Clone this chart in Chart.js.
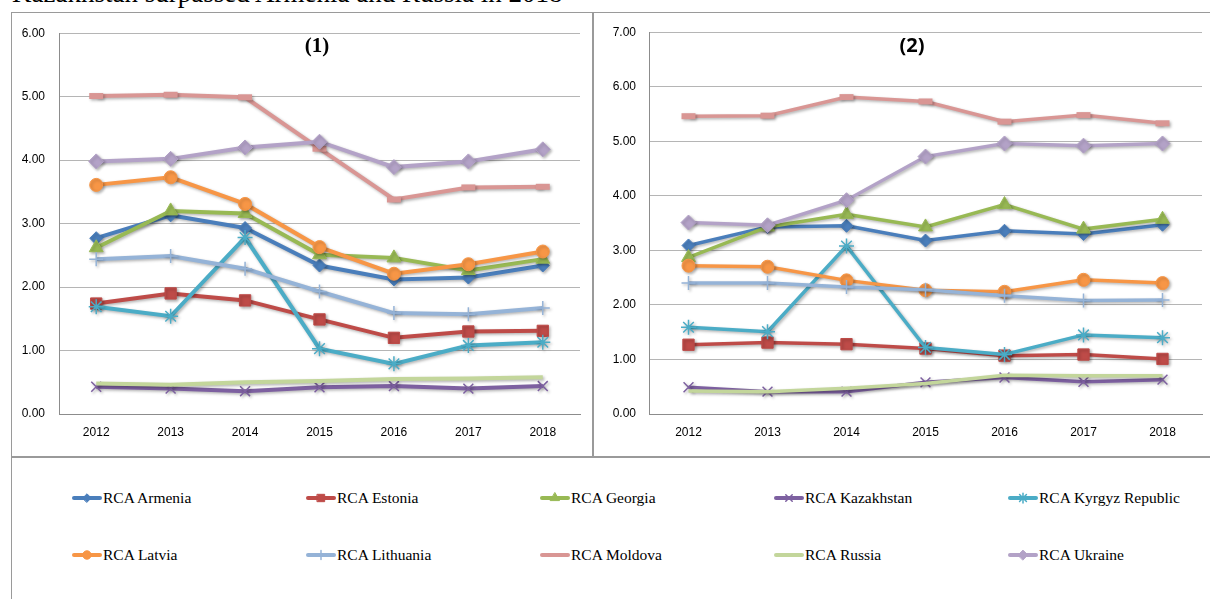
<!DOCTYPE html>
<html>
<head>
<meta charset="utf-8">
<script src="https://cdn.jsdelivr.net/npm/chart.js@4.4.1/dist/chart.umd.min.js"></script>
<style>
  html, body { margin: 0; padding: 0; background: #fff; width: 1210px; height: 599px; overflow: hidden; position: relative; }
  .frame { position: absolute; border: 1.5px solid #9a9a9a; box-sizing: border-box; }
  canvas { position: absolute; }
  .caption { position: absolute; left: 12px; top: -20.5px; font: 27px/27px "Liberation Serif", "Times New Roman", serif; color: #000; white-space: nowrap; }
  .ptitle { position: absolute; transform: translate(-50%, -50%); color: #000; white-space: nowrap; }
  .legend-item { position: absolute; height: 20px; display: flex; align-items: center; transform: translateY(-50%);
                 font: 15.5px "Liberation Serif", "Times New Roman", serif; color: #000; white-space: nowrap; }
  .legend-item canvas { position: static; margin-right: 1px; }
</style>
</head>
<body>
<div class="caption">Kazakhstan surpassed Armenia and Russia in 2018</div>

<div class="frame" style="left:11px; top:12px; width:583px; height:446px;"></div>
<div class="frame" style="left:592px; top:12px; width:640px; height:446px;"></div>
<div class="frame" style="left:11px; top:456px; width:1221px; height:160px;"></div>

<canvas id="c1" width="582" height="445" style="left:11px; top:12px;"></canvas>
<canvas id="c2" width="622" height="445" style="left:593px; top:12px;"></canvas>

<div class="ptitle" style="left:317px; top:45px; font: bold 21px 'Liberation Serif', serif;">(1)</div>
<div class="ptitle" style="left:912px; top:44px; font: bold 20px 'Open Sans', 'Liberation Sans', sans-serif;">(2)</div>

<div id="legend"></div>

<script>
// Years on the category axis
const years = ['2012', '2013', '2014', '2015', '2016', '2017', '2018'];

// Series names
const countries = ['Armenia', 'Estonia', 'Georgia', 'Kazakhstan', 'Kyrgyz Republic',
                   'Latvia', 'Lithuania', 'Moldova', 'Russia', 'Ukraine'];

// Panel (1) values
const armenia1    = [2.77, 3.13, 2.93, 2.34, 2.12, 2.15, 2.34];
const estonia1    = [1.74, 1.90, 1.79, 1.49, 1.20, 1.30, 1.31];
const georgia1    = [2.62, 3.20, 3.16, 2.51, 2.46, 2.26, 2.44];
const kazakhstan1 = [0.43, 0.40, 0.36, 0.42, 0.44, 0.40, 0.44];
const kyrgyz1     = [1.69, 1.54, 2.78, 1.03, 0.79, 1.08, 1.13];
const latvia1     = [3.61, 3.73, 3.31, 2.63, 2.21, 2.36, 2.56];
const lithuania1  = [2.44, 2.49, 2.29, 1.93, 1.59, 1.57, 1.67];
const moldova1    = [5.01, 5.03, 4.99, 4.18, 3.38, 3.57, 3.58];
const russia1     = [0.48, 0.46, 0.50, 0.52, 0.55, 0.56, 0.58];
const ukraine1    = [3.98, 4.02, 4.20, 4.29, 3.89, 3.98, 4.17];

// Panel (2) values
const armenia2    = [3.09, 3.43, 3.45, 3.18, 3.36, 3.30, 3.47];
const estonia2    = [1.27, 1.31, 1.28, 1.20, 1.07, 1.09, 1.01];
const georgia2    = [2.87, 3.43, 3.66, 3.43, 3.84, 3.39, 3.57];
const kazakhstan2 = [0.49, 0.41, 0.41, 0.58, 0.67, 0.59, 0.63];
const kyrgyz2     = [1.59, 1.51, 3.08, 1.22, 1.09, 1.45, 1.40];
const latvia2     = [2.72, 2.70, 2.45, 2.27, 2.24, 2.46, 2.40];
const lithuania2  = [2.40, 2.40, 2.33, 2.28, 2.17, 2.08, 2.09];
const moldova2    = [5.46, 5.47, 5.81, 5.73, 5.36, 5.48, 5.33];
const russia2     = [0.42, 0.41, 0.47, 0.56, 0.71, 0.70, 0.70];
const ukraine2    = [3.51, 3.46, 3.92, 4.72, 4.96, 4.92, 4.96];

const panel1 = [armenia1, estonia1, georgia1, kazakhstan1, kyrgyz1, latvia1, lithuania1, moldova1, russia1, ukraine1];
const panel2 = [armenia2, estonia2, georgia2, kazakhstan2, kyrgyz2, latvia2, lithuania2, moldova2, russia2, ukraine2];

// Line colour and marker for each series
const styles = [
  { color: '#4A7EBB', point: 'rectRot',  radius: 6.5, pbw: 1 },
  { color: '#BE4B48', point: 'rect',     radius: 8,   pbw: 1 },
  { color: '#98B954', point: 'triangle', radius: 8,   pbw: 1 },
  { color: '#7D60A0', point: 'crossRot', radius: 7,   pbw: 1.5 },
  { color: '#4BACC6', point: 'star',     radius: 7.5, pbw: 1.5 },
  { color: '#F79646', point: 'circle',   radius: 6.5, pbw: 1 },
  { color: '#95B3D7', point: 'cross',    radius: 7,   pbw: 1.5 },
  { color: '#D99694', point: 'line',     radius: 7,   pbw: 6 },
  { color: '#C3D69B', point: 'circle',   radius: 0,   pbw: 0 },
  { color: '#B3A2C7', point: 'rectRot',  radius: 7.5, pbw: 1 }
];

// Soft drop shadow under the lines and markers
const lineShadow = {
  id: 'lineShadow',
  beforeDatasetsDraw(chart) {
    const c = chart.ctx;
    c.save();
    c.shadowColor = 'rgba(0,0,0,0.3)';
    c.shadowBlur = 3;
    c.shadowOffsetX = 1.5;
    c.shadowOffsetY = 1.5;
  },
  afterDatasetsDraw(chart) { chart.ctx.restore(); }
};

function makeDatasets(values, lineWidth) {
  return values.map((data, i) => ({
    label: 'RCA ' + countries[i],
    data: data,
    borderColor: styles[i].color,
    backgroundColor: styles[i].color,
    borderWidth: lineWidth,
    pointStyle: styles[i].point,
    pointRadius: styles[i].radius,
    pointHoverRadius: styles[i].radius,
    pointBorderWidth: styles[i].pbw,
    pointBackgroundColor: styles[i].color,
    pointBorderColor: styles[i].color,
    tension: 0,
    clip: false,
    order: values.length - i   // later series drawn on top
  }));
}

function makeChart(id, values, yMax, yWidth, xHeight, padTop, yPad, lineWidth) {
  return new Chart(document.getElementById(id), {
    type: 'line',
    data: { labels: years, datasets: makeDatasets(values, lineWidth) },
    plugins: [lineShadow],
    options: {
      responsive: false,
      animation: false,
      devicePixelRatio: 1,
      layout: { padding: { top: padTop, left: 0, right: 0, bottom: 0 } },
      plugins: { legend: { display: false }, tooltip: { enabled: false }, title: { display: false } },
      scales: {
        x: {
          offset: true,
          grid: { display: false, drawTicks: false },
          border: { display: true, color: '#8c8c8c', width: 1 },
          ticks: { color: '#000', padding: 11, maxRotation: 0,
                   font: { family: "'Liberation Sans', Arial, sans-serif", size: 12 } },
          afterFit(s) { s.height = xHeight; }
        },
        y: {
          min: 0, max: yMax,
          grid: { color: '#b5b5b5', lineWidth: 1, drawTicks: false },
          border: { display: true, color: '#8c8c8c', width: 1 },
          ticks: { stepSize: 1, color: '#000', padding: yPad,
                   font: { family: "'Liberation Sans', Arial, sans-serif", size: 12 },
                   callback: v => Number(v).toFixed(2) },
          afterFit(s) { s.width = yWidth; }
        }
      }
    }
  });
}

makeChart('c1', panel1, 6, 48, 43, 15, 14, 4);
makeChart('c2', panel2, 7, 56, 43, 19, 13, 3.5);

// Shared legend below both panels
const legend = document.getElementById('legend');
countries.forEach((name, i) => {
  const row = Math.floor(i / 5), col = i % 5;
  const item = document.createElement('div');
  item.className = 'legend-item';
  item.style.left = (72 + col * 234) + 'px';
  item.style.top = (498 + row * 57) + 'px';
  const cv = document.createElement('canvas');
  cv.width = 30; cv.height = 20;
  const ctx = cv.getContext('2d');
  const st = styles[i];
  ctx.strokeStyle = st.color;
  ctx.lineWidth = 4;
  ctx.lineCap = 'round';
  ctx.beginPath(); ctx.moveTo(2, 10); ctx.lineTo(28, 10); ctx.stroke();
  if (st.radius > 0 && Chart.helpers && Chart.helpers.drawPoint) {
    ctx.fillStyle = st.color;
    ctx.lineWidth = Math.min(st.pbw, 4);
    Chart.helpers.drawPoint(ctx, { pointStyle: st.point, radius: st.radius * 0.65, rotation: 0, borderWidth: ctx.lineWidth }, 15, 10);
  }
  item.appendChild(cv);
  const span = document.createElement('span');
  span.textContent = 'RCA ' + name;
  item.appendChild(span);
  legend.appendChild(item);
});
</script>
</body>
</html>
